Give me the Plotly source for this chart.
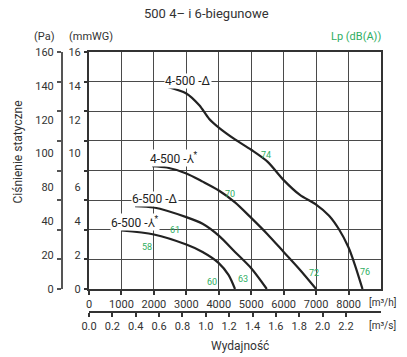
import numpy as np
import plotly.graph_objects as go

# ---------------- data ----------------
flow_4d = [2400, 3000, 3400, 3700, 4000, 4500, 5000, 5500, 6000, 6500, 7000, 7400, 7700, 8000, 8200, 8430]
p_4d = [13.65, 13.2, 12.4, 11.5, 10.9, 10.1, 9.4, 8.6, 7.35, 6.35, 5.7, 4.95, 4.05, 2.8, 1.6, 0]
flow_4y = [1950, 2400, 3000, 3500, 4000, 4500, 5000, 5500, 6000, 6500, 7000]
p_4y = [8.3, 8.2, 7.8, 7.25, 6.65, 5.85, 4.8, 3.7, 2.5, 1.3, 0]
flow_6d = [1420, 2000, 3000, 3500, 4000, 4500, 5000, 5480]
p_6d = [5.6, 5.5, 4.85, 4.4, 3.6, 2.5, 1.4, 0]
flow_6y = [1000, 2000, 3000, 3500, 4000, 4300, 4500]
p_6y = [3.95, 3.68, 3.0, 2.5, 1.75, 0.95, 0]

curve_names = ["4-500 -Δ", "4-500 -⅄<sup>*</sup>", "6-500 -Δ", "6-500 -⅄<sup>*</sup>"]
name_x = [3050, 2620, 2040, 1420]
name_y = [14.05, 8.85, 6.08, 4.5]

lp_text = ["74", "70", "72", "76", "63", "60", "61", "58"]
lp_x = [5460, 4340, 6920, 8510, 4740, 3780, 2650, 1800]
lp_y = [9.05, 6.4, 1.1, 1.15, 0.65, 0.5, 3.95, 2.85]

flow_ticks = [0, 1000, 2000, 3000, 4000, 5000, 6000, 7000, 8000]
flow_s_ticks = [0.0, 0.2, 0.4, 0.6, 0.8, 1.0, 1.2, 1.4, 1.6, 1.8, 2.0, 2.2]
mmwg_ticks = [0, 2, 4, 6, 8, 10, 12, 14, 16]
mmwg_labels = ["16", "14", "12", "10", "6", "4", "2", "0"]
pa_ticks = [0, 20, 40, 60, 80, 100, 120, 140, 160]
pa_labels = ["160", "140", "120", "100", "80", "40", "20", "0"]

FLOW_MAX = 9000
P_MAX = 16
PA_MAX = 160

# ---------------- styling ----------------
FONT = "Roboto, sans-serif"
TXT = "#333333"
GREEN = "#2fae62"
LINE = "#222222"
GRID = "#4a4a4a"

W, H = 407, 357
ML, MR, MT, MB = 62, 26, 52, 45
PW = W - ML - MR
PH = H - MT - MB
xd0 = (89 - ML) / PW
yd0 = (312 - 289) / PH


def px_x(px):
    return (px - ML) / PW


def px_y(py):
    return (H - MB - py) / PH


fig = go.Figure()
for fx, py in [(flow_4d, p_4d), (flow_4y, p_4y), (flow_6d, p_6d), (flow_6y, p_6y)]:
    fig.add_trace(go.Scatter(x=fx, y=py, mode="lines",
                             line=dict(color=LINE, width=2.2, shape="spline", smoothing=0.8),
                             hoverinfo="skip", showlegend=False))

# invisible helpers so overlay axes are drawn
for xa, ya in [("x2", "y"), ("x", "y2"), ("x", "y3"), ("x", "y4")]:
    fig.add_trace(go.Scatter(x=[None], y=[None], xaxis=xa, yaxis=ya, mode="lines",
                             hoverinfo="skip", showlegend=False))

tickfont = dict(family=FONT, size=11, color=TXT)

fig.update_layout(
    width=W, height=H,
    margin=dict(l=ML, r=MR, t=MT, b=MB),
    paper_bgcolor="white", plot_bgcolor="white",
    font=dict(family=FONT, size=11, color=TXT),
    xaxis=dict(domain=[xd0, 1], range=[0, FLOW_MAX], anchor="y",
               tickvals=flow_ticks, ticktext=[str(v) for v in flow_ticks],
               ticks="outside", ticklen=4, tickwidth=1.5, tickcolor="#333",
               showline=True, linewidth=2, linecolor="#333", mirror=True,
               showgrid=True, gridcolor=GRID, gridwidth=1,
               tickfont=tickfont, zeroline=False, automargin=False),
    xaxis2=dict(overlaying="x", anchor="free", position=0, side="bottom",
                range=[0, FLOW_MAX / 3600],
                tickvals=flow_s_ticks, ticktext=[f"{v:.1f}" for v in flow_s_ticks],
                ticks="outside", ticklen=4, tickwidth=1.5, tickcolor="#333",
                showline=True, linewidth=1.5, linecolor="#333",
                showgrid=False, zeroline=False, tickfont=tickfont, automargin=False),
    yaxis=dict(domain=[yd0, 1], range=[0, P_MAX], anchor="x",
               tickvals=mmwg_ticks, showticklabels=False,
               ticks="outside", ticklen=3, tickwidth=1.5, tickcolor="#333",
               showline=True, linewidth=2, linecolor="#333", mirror=True,
               showgrid=True, gridcolor=GRID, gridwidth=1, zeroline=False, automargin=False),
    yaxis3=dict(overlaying="y", anchor="x", range=[0, P_MAX],
                tickvals=list(np.linspace(P_MAX, 0, len(mmwg_labels))), ticktext=mmwg_labels,
                ticks="outside", ticklen=5, tickcolor="rgba(0,0,0,0)",
                showline=False, showgrid=False, zeroline=False, tickfont=tickfont, automargin=False),
    yaxis2=dict(overlaying="y", anchor="free", position=0, range=[0, PA_MAX],
                tickvals=pa_ticks, showticklabels=False,
                ticks="outside", ticklen=4, tickwidth=1.5, tickcolor="#555",
                showline=True, linewidth=2, linecolor="#555",
                showgrid=False, zeroline=False, automargin=False),
    yaxis4=dict(overlaying="y", anchor="free", position=0, range=[0, PA_MAX],
                tickvals=list(np.linspace(PA_MAX, 0, len(pa_labels))), ticktext=pa_labels,
                ticks="outside", ticklen=6, tickcolor="rgba(0,0,0,0)",
                showline=False, showgrid=False, zeroline=False, tickfont=tickfont, automargin=False),
)

ann = []
for t, x, y in zip(curve_names, name_x, name_y):
    ann.append(dict(text=t, x=x, y=y, xref="x", yref="y", showarrow=False,
                    xanchor="center", yanchor="middle",
                    font=dict(family=FONT, size=12, color="#222"), bgcolor="white", borderpad=0))
for t, x, y in zip(lp_text, lp_x, lp_y):
    ann.append(dict(text=t, x=x, y=y, xref="x", yref="y", showarrow=False,
                    xanchor="center", yanchor="middle",
                    font=dict(family=FONT, size=9, color=GREEN)))


def pann(text, x, y, size=11, color=TXT, xanchor="center", **kw):
    return dict(text=text, x=px_x(x), y=px_y(y), xref="paper", yref="paper",
                xanchor=xanchor, yanchor="middle", showarrow=False,
                font=dict(family=FONT, size=size, color=color), **kw)


ann += [
    pann("500 4– i 6-biegunowe", 206, 13, size=13),
    pann("(Pa)", 44, 36),
    pann("(mmWG)", 91, 36),
    pann("Lp (dB(A))", 383, 36, color=GREEN, xanchor="right"),
    pann("Ciśnienie statyczne", 17.5, 152, size=12, textangle=-90),
    pann("Wydajność", 240, 346, size=12),
    pann("[m³/h]", 367, 302, size=10, xanchor="left"),
    pann("[m³/s]", 367, 325, size=10, xanchor="left"),
]
fig.update_layout(annotations=ann)

fig.write_html("out.html", config={"displayModeBar": False},
               post_script="document.body.style.margin='0';document.body.style.padding='0';")
